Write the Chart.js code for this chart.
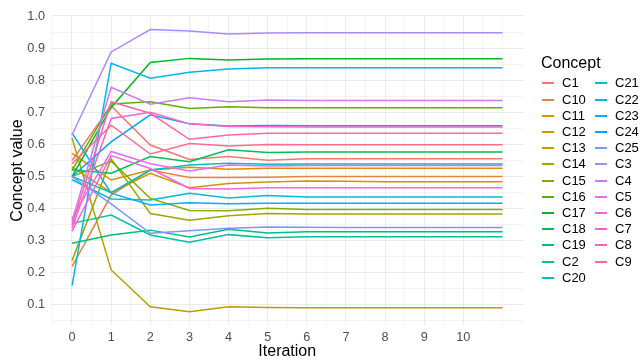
<!DOCTYPE html>
<html>
<head>
<meta charset="utf-8">
<script src="https://cdn.jsdelivr.net/npm/chart.js@4.4.1/dist/chart.umd.min.js"></script>
<style>
  html, body { margin: 0; padding: 0; background: #fff; }
  #wrap { position: relative; width: 642px; height: 360px; font-family: "Liberation Sans", Arial, sans-serif; }
  #chart { position: absolute; left: 0; top: 0; }
  #legend { position: absolute; left: 0; top: 0; width: 642px; height: 360px; color: #000; pointer-events: none; }
  #legend .title { position: absolute; left: 541px; top: 54px; font-size: 16px; line-height: 18px; }
  #legend .item { position: absolute; height: 16px; display: flex; align-items: center; font-size: 13px; line-height: 16px; white-space: nowrap; }
  #legend .key { width: 12px; height: 2px; margin-right: 8.5px; }
</style>
</head>
<body>
<div id="wrap">
  <canvas id="chart" width="642" height="360"></canvas>
  <div id="legend"></div>
</div>
<script>
// Iterations of the fuzzy cognitive map simulation
const iterations = [0, 1, 2, 3, 4, 5, 6, 7, 8, 9, 10, 11];
const xTickLabels = ["0", "1", "2", "3", "4", "5", "6", "7", "8", "9", "10"];
const yTickLabels = ["0.1", "0.2", "0.3", "0.4", "0.5", "0.6", "0.7", "0.8", "0.9", "1.0"];

// Concept names in factor (alphabetical) order
const concepts = ["C1", "C10", "C11", "C12", "C13", "C14", "C15", "C16", "C17", "C18", "C19",
                  "C2", "C20", "C21", "C22", "C23", "C24", "C25",
                  "C3", "C4", "C5", "C6", "C7", "C8", "C9"];

// Concept values per iteration
const c1  = [0.550, 0.720, 0.598, 0.553, 0.562, 0.551, 0.555, 0.555, 0.555, 0.555, 0.555, 0.555];
const c10 = [0.219, 0.442, 0.520, 0.497, 0.497, 0.498, 0.500, 0.500, 0.500, 0.500, 0.500, 0.500];
const c11 = [0.572, 0.489, 0.520, 0.529, 0.523, 0.526, 0.526, 0.526, 0.526, 0.526, 0.526, 0.526];
const c12 = [0.530, 0.450, 0.510, 0.465, 0.478, 0.483, 0.486, 0.485, 0.484, 0.484, 0.484, 0.484];
const c13 = [0.620, 0.209, 0.094, 0.079, 0.094, 0.092, 0.091, 0.091, 0.091, 0.091, 0.091, 0.091];
const c14 = [0.238, 0.555, 0.385, 0.364, 0.378, 0.385, 0.383, 0.383, 0.383, 0.383, 0.383, 0.383];
const c15 = [0.500, 0.548, 0.432, 0.394, 0.393, 0.401, 0.397, 0.397, 0.397, 0.397, 0.397, 0.397];
const c16 = [0.520, 0.726, 0.733, 0.712, 0.717, 0.714, 0.714, 0.714, 0.714, 0.714, 0.714, 0.714];
const c17 = [0.500, 0.715, 0.855, 0.868, 0.863, 0.866, 0.867, 0.867, 0.867, 0.867, 0.867, 0.867];
const c18 = [0.520, 0.510, 0.562, 0.546, 0.583, 0.575, 0.576, 0.576, 0.576, 0.576, 0.576, 0.576];
const c19 = [0.292, 0.318, 0.333, 0.312, 0.336, 0.324, 0.328, 0.328, 0.328, 0.328, 0.328, 0.328];
const c2  = [0.354, 0.380, 0.318, 0.295, 0.319, 0.309, 0.312, 0.312, 0.312, 0.312, 0.312, 0.312];
const c20 = [0.500, 0.450, 0.520, 0.536, 0.541, 0.538, 0.539, 0.539, 0.539, 0.539, 0.539, 0.539];
const c21 = [0.490, 0.430, 0.427, 0.448, 0.433, 0.441, 0.436, 0.436, 0.436, 0.436, 0.436, 0.436];
const c22 = [0.160, 0.853, 0.806, 0.825, 0.835, 0.839, 0.839, 0.839, 0.839, 0.839, 0.839, 0.839];
const c23 = [0.635, 0.448, 0.411, 0.418, 0.415, 0.417, 0.417, 0.417, 0.417, 0.417, 0.417, 0.417];
const c24 = [0.500, 0.608, 0.692, 0.664, 0.657, 0.659, 0.658, 0.658, 0.658, 0.658, 0.658, 0.658];
const c25 = [0.500, 0.415, 0.323, 0.331, 0.339, 0.343, 0.342, 0.341, 0.341, 0.341, 0.341, 0.341];
const c3  = [0.630, 0.888, 0.958, 0.953, 0.944, 0.947, 0.948, 0.948, 0.948, 0.948, 0.948, 0.948];
const c4  = [0.360, 0.778, 0.725, 0.745, 0.733, 0.738, 0.737, 0.737, 0.737, 0.737, 0.737, 0.737];
const c5  = [0.370, 0.578, 0.540, 0.517, 0.536, 0.533, 0.534, 0.534, 0.534, 0.534, 0.534, 0.534];
const c6  = [0.330, 0.565, 0.525, 0.463, 0.461, 0.465, 0.465, 0.465, 0.465, 0.465, 0.465, 0.465];
const c7  = [0.340, 0.681, 0.700, 0.664, 0.656, 0.655, 0.654, 0.654, 0.654, 0.654, 0.654, 0.654];
const c8  = [0.350, 0.733, 0.697, 0.616, 0.629, 0.635, 0.635, 0.635, 0.635, 0.635, 0.635, 0.635];
const c9  = [0.540, 0.660, 0.570, 0.603, 0.595, 0.600, 0.599, 0.599, 0.599, 0.599, 0.599, 0.599];

const seriesValues = [c1, c10, c11, c12, c13, c14, c15, c16, c17, c18, c19,
                      c2, c20, c21, c22, c23, c24, c25,
                      c3, c4, c5, c6, c7, c8, c9];

// Polar-Luv (HCL) to sRGB hex, for an evenly spaced hue palette
function hcl(h, c, l) {
  const hr = h * Math.PI / 180;
  const U = c * Math.cos(hr), V = c * Math.sin(hr);
  const Yn = 100, un = 0.1978398, vn = 0.4683363;
  const Y = Yn * (l > 7.999592 ? Math.pow((l + 16) / 116, 3) : l / 903.3);
  const u = U / (13 * l) + un, v = V / (13 * l) + vn;
  const X = 9 * Y * u / (4 * v);
  const Z = -X / 3 - 5 * Y + 3 * Y / v;
  const g = t => t > 0.00304 ? 1.055 * Math.pow(t, 1 / 2.4) - 0.055 : 12.92 * t;
  const rgb = [
    g(( 3.240479 * X - 1.537150 * Y - 0.498535 * Z) / Yn),
    g((-0.969256 * X + 1.875992 * Y + 0.041556 * Z) / Yn),
    g(( 0.055648 * X - 0.204043 * Y + 1.057311 * Z) / Yn)
  ];
  return "#" + rgb.map(t => Math.round(Math.min(1, Math.max(0, t)) * 255).toString(16).padStart(2, "0")).join("");
}
const palette = concepts.map((_, i) => hcl(15 + 360 * i / concepts.length, 100, 65));

const datasets = concepts.map((name, i) => ({
  label: name,
  data: iterations.map((it, k) => ({ x: it, y: seriesValues[i][k] })),
  borderColor: palette[i],
  backgroundColor: palette[i],
  borderWidth: 1.5,
  pointRadius: 0,
  tension: 0,
  fill: false,
  order: concepts.length - 1 - i
}));

const gridColor = "#EBEBEB";
const isMajorX = v => Math.abs(v - Math.round(v)) < 1e-6 && xTickLabels.includes(String(Math.round(v)));
const isMajorY = v => yTickLabels.includes((Math.round(v * 100) / 100).toFixed(1)) && Math.abs(v * 10 - Math.round(v * 10)) < 1e-6;

new Chart(document.getElementById("chart"), {
  type: "line",
  data: { datasets },
  options: {
    responsive: false,
    animation: false,
    events: [],
    layout: { padding: { top: 16, right: 118, left: 0, bottom: 0 } },
    plugins: { legend: { display: false }, tooltip: { enabled: false } },
    scales: {
      x: {
        type: "linear",
        min: -0.55,
        max: 11.55,
        afterBuildTicks: s => {
          const t = [];
          for (let k = -1; k <= 22; k++) t.push({ value: k / 2 });
          s.ticks = t;
        },
        afterFit: s => { s.height = 35; },
        grid: {
          color: gridColor,
          lineWidth: ctx => (ctx.tick && isMajorX(ctx.tick.value)) ? 1.1 : 0.55,
          drawTicks: false
        },
        border: { display: false },
        ticks: {
          autoSkip: false,
          maxRotation: 0,
          padding: 5,
          color: "#4D4D4D",
          font: { family: "'Liberation Sans', Arial, sans-serif", size: 12.7 },
          callback: v => isMajorX(v) ? String(Math.round(v)) : ""
        },
        title: {
          display: true,
          text: "Iteration",
          color: "#000",
          padding: { top: 0, bottom: 0 },
          font: { family: "'Liberation Sans', Arial, sans-serif", size: 16, lineHeight: 1 }
        }
      },
      y: {
        type: "linear",
        min: 0.0375,
        max: 1.0,
        afterBuildTicks: s => {
          const t = [];
          for (let k = 1; k <= 20; k++) t.push({ value: k / 20 });
          s.ticks = t;
        },
        afterFit: s => { s.width = 50.5; },
        grid: {
          color: gridColor,
          lineWidth: ctx => (ctx.tick && isMajorY(ctx.tick.value)) ? 1.1 : 0.55,
          drawTicks: false
        },
        border: { display: false },
        ticks: {
          autoSkip: false,
          padding: 5.5,
          color: "#4D4D4D",
          font: { family: "'Liberation Sans', Arial, sans-serif", size: 12.7 },
          callback: v => isMajorY(v) ? (Math.round(v * 10) / 10).toFixed(1) : ""
        },
        title: {
          display: true,
          text: "Concept value",
          color: "#000",
          padding: { top: 7.5, bottom: 0 },
          font: { family: "'Liberation Sans', Arial, sans-serif", size: 16, lineHeight: 1.2 }
        }
      }
    }
  }
});

// Legend laid out column-wise: 13 rows in the first column, the rest in the second
const legend = document.getElementById("legend");
const title = document.createElement("div");
title.className = "title";
title.textContent = "Concept";
legend.appendChild(title);
const rowsPerColumn = 13, rowStep = 16.2, firstRowCenter = 83.3;
const columnLeft = [541.5, 594.5];
concepts.forEach((name, i) => {
  const col = Math.floor(i / rowsPerColumn), row = i % rowsPerColumn;
  const item = document.createElement("div");
  item.className = "item";
  item.style.left = columnLeft[col] + "px";
  item.style.top = Math.round(firstRowCenter + row * rowStep - 8) + "px";
  const key = document.createElement("span");
  key.className = "key";
  key.style.background = palette[i];
  const txt = document.createElement("span");
  txt.textContent = name;
  item.appendChild(key);
  item.appendChild(txt);
  legend.appendChild(item);
});
</script>
</body>
</html>
